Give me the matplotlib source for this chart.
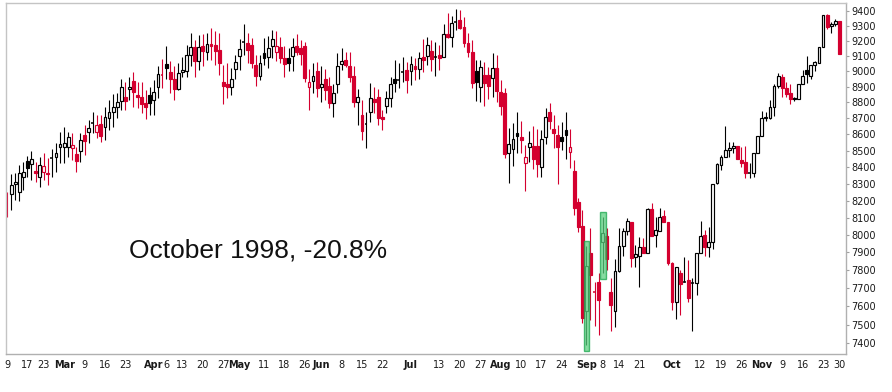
import numpy as np
import pandas as pd
import matplotlib
matplotlib.use("Agg")
import matplotlib.pyplot as plt
from matplotlib.patches import Rectangle
from matplotlib.ticker import NullLocator, NullFormatter

# ---------------- data ----------------
start_date = "1998-02-09"
end_date = "1998-11-30"
holidays = ["1998-02-16", "1998-04-10", "1998-05-25", "1998-07-03", "1998-09-07", "1998-11-26"]
prior_close = 8189

opens = [8186, 8237, 8296, 8251, 8340, 8437, 8417, 8377, 8342, 8372,
         8366, 8453, 8463, 8524, 8524, 8524, 8518, 8478, 8499, 8596,
         8617, 8673, 8617, 8664, 8644, 8700, 8741, 8769, 8809, 8832,
         8884, 8937, 8845, 8832, 8794, 8847, 8815, 8896, 8978, 9046,
         8993, 8949, 8884, 8993, 9003, 9105, 9156, 9068, 9165, 9127,
         9176, 9171, 9138, 8929, 8917, 8896, 9012, 9101, 9193, 9182,
         9171, 9040, 8969, 9116, 9090, 9167, 9127, 9156, 9084, 9088,
         9099, 9167, 9153, 9165, 8896, 8939, 9001, 8900, 8951, 8904,
         8794, 8915, 9045, 9073, 9031, 8969, 8804, 8720, 8663, 8737,
         8822, 8836, 8710, 8779, 8826, 8949, 8940, 8997, 9008, 9003,
         9036, 9012, 9094, 9101, 9134, 9094, 9105, 9094, 9244, 9226,
         9326, 9337, 9293, 9186, 9127, 9001, 8900, 8975, 8975, 8954,
         9019, 8868, 8858, 8487, 8508, 8607, 8582, 8426, 8524, 8530,
         8528, 8399, 8586, 8737, 8633, 8596, 8586, 8627, 8490, 8377,
         8194, 8052, 7575, 7895, 7677, 7735, 7961, 7994, 7677, 7575,
         7795, 7938, 8023, 8077, 7872, 7881, 7929, 7895, 8151, 7999,
         8023, 8110, 8077, 7838, 7625, 7786, 7732, 7745, 7730, 7730,
         7895, 7997, 7933, 7961, 8302, 8413, 8463, 8504, 8514, 8528,
         8443, 8433, 8366, 8366, 8488, 8590, 8700, 8700, 8773, 8904,
         8965, 8890, 8858, 8828, 8822, 8915, 9008, 8969, 9037, 9055,
         9156, 9371, 9297, 9310, 9330]

highs = [8251, 8358, 8364, 8413, 8431, 8469, 8498, 8433, 8463, 8484,
         8457, 8510, 8544, 8613, 8648, 8617, 8607, 8524, 8607, 8658,
         8689, 8741, 8720, 8720, 8773, 8815, 8852, 8858, 8951, 8929,
         8961, 8997, 8929, 8929, 8879, 8900, 8940, 9031, 9077, 9162,
         9068, 9031, 9052, 9094, 9173, 9249, 9204, 9237, 9242, 9249,
         9282, 9264, 9249, 9040, 9052, 9019, 9105, 9209, 9309, 9249,
         9220, 9105, 9105, 9220, 9231, 9271, 9264, 9226, 9162, 9151,
         9220, 9242, 9204, 9193, 9012, 9052, 9058, 9031, 9012, 8965,
         8919, 9116, 9151, 9127, 9127, 9031, 8883, 8815, 8741, 8922,
         8896, 8883, 8752, 8874, 8965, 9074, 9052, 9090, 9056, 9099,
         9084, 9127, 9209, 9226, 9204, 9193, 9173, 9311, 9383, 9364,
         9409, 9405, 9360, 9249, 9204, 9074, 9070, 9061, 9029, 9116,
         9105, 8940, 8889, 8638, 8673, 8737, 8683, 8534, 8621, 8652,
         8632, 8627, 8762, 8794, 8720, 8658, 8679, 8737, 8632, 8443,
         8215, 8144, 7935, 8037, 7735, 7786, 8102, 8037, 7755, 7865,
         8037, 8037, 8097, 8077, 7942, 7990, 7981, 8155, 8184, 8106,
         8155, 8145, 8077, 7847, 7819, 7800, 7876, 7856, 7755, 7895,
         8081, 8028, 8043, 8298, 8423, 8473, 8652, 8555, 8555, 8528,
         8524, 8528, 8423, 8488, 8590, 8746, 8740, 8815, 8917, 8988,
         8982, 8929, 8919, 8835, 8915, 9008, 9100, 9040, 9065, 9156,
         9371, 9378, 9324, 9344, 9330]

lows = [8104, 8145, 8204, 8199, 8263, 8342, 8322, 8312, 8282, 8322,
        8292, 8342, 8372, 8423, 8423, 8463, 8443, 8372, 8429, 8473,
        8544, 8607, 8576, 8555, 8566, 8627, 8648, 8700, 8752, 8752,
        8815, 8773, 8763, 8732, 8696, 8720, 8720, 8826, 8890, 8951,
        8858, 8815, 8879, 8961, 8965, 9031, 8965, 9008, 9031, 9074,
        9074, 9040, 8975, 8788, 8826, 8847, 8951, 9008, 9105, 9052,
        9019, 8906, 8944, 9040, 9019, 9084, 9065, 9051, 8961, 9001,
        9001, 9105, 9040, 8929, 8752, 8858, 8836, 8804, 8815, 8763,
        8710, 8858, 9008, 9029, 8929, 8773, 8658, 8566, 8518, 8679,
        8732, 8658, 8627, 8732, 8773, 8868, 8889, 8929, 8862, 8911,
        8940, 8951, 8997, 9040, 9003, 8969, 9008, 9094, 9215, 9160,
        9271, 9276, 9160, 9094, 8890, 8808, 8803, 8777, 8822, 8836,
        8804, 8720, 8453, 8306, 8407, 8484, 8484, 8257, 8433, 8389,
        8339, 8342, 8540, 8632, 8514, 8298, 8504, 8447, 8393, 8116,
        8017, 7511, 7390, 7525, 7495, 7442, 7782, 7801, 7464, 7489,
        7791, 7880, 7999, 7819, 7819, 7708, 7895, 7895, 7994, 7932,
        8023, 8077, 7828, 7580, 7529, 7550, 7732, 7625, 7464, 7660,
        7895, 7878, 7875, 7919, 8298, 8382, 8463, 8463, 8484, 8447,
        8402, 8333, 8333, 8342, 8488, 8590, 8683, 8696, 8714, 8892,
        8836, 8836, 8788, 8808, 8822, 8915, 8922, 8951, 8999, 9055,
        9156, 9277, 9249, 9297, 9109]

closes = [8186, 8292, 8308, 8364, 8368, 8393, 8447, 8366, 8412, 8407,
          8360, 8453, 8484, 8538, 8545, 8582, 8534, 8437, 8566, 8561,
          8638, 8673, 8658, 8592, 8710, 8741, 8769, 8801, 8900, 8811,
          8896, 8864, 8836, 8788, 8773, 8794, 8864, 8980, 8978, 9022,
          8949, 8884, 8986, 9008, 9105, 9156, 9068, 9160, 9134, 9176,
          9165, 9134, 9055, 8906, 8896, 8947, 9062, 9143, 9193, 9138,
          9051, 8969, 9051, 9084, 9153, 9209, 9167, 9088, 9045, 9051,
          9160, 9127, 9110, 8958, 8927, 8969, 8894, 8915, 8879, 8798,
          8862, 9035, 9067, 9040, 8965, 8804, 8832, 8623, 8663, 8826,
          8804, 8704, 8696, 8826, 8915, 8926, 8940, 8997, 8940, 9045,
          9014, 9084, 9073, 9171, 9079, 9094, 9088, 9244, 9226, 9319,
          9326, 9286, 9182, 9123, 8925, 8929, 9025, 8925, 8904, 9019,
          8875, 8779, 8479, 8538, 8570, 8590, 8566, 8459, 8545, 8449,
          8419, 8570, 8706, 8685, 8607, 8524, 8561, 8596, 8520, 8158,
          8048, 7534, 7823, 7773, 7677, 7634, 8013, 7861, 7607, 7795,
          7938, 8024, 8083, 7870, 7891, 7929, 7895, 8149, 7994, 8028,
          8102, 8077, 7838, 7625, 7819, 7721, 7732, 7644, 7730, 7895,
          7995, 7933, 7961, 8298, 8417, 8463, 8504, 8514, 8528, 8447,
          8423, 8363, 8366, 8488, 8590, 8700, 8705, 8773, 8904, 8969,
          8890, 8853, 8820, 8823, 8915, 8969, 8982, 9040, 9058, 9156,
          9371, 9293, 9310, 9330, 9109]

highlight_dates = ["1998-09-01", "1998-09-08"]

tick_dates = ["1998-02-09", "1998-02-17", "1998-02-23", "1998-03-02", "1998-03-09",
              "1998-03-16", "1998-03-23", "1998-04-01", "1998-04-06", "1998-04-13",
              "1998-04-20", "1998-04-27", "1998-05-01", "1998-05-11", "1998-05-18",
              "1998-05-26", "1998-06-01", "1998-06-08", "1998-06-15", "1998-06-22",
              "1998-07-01", "1998-07-13", "1998-07-20", "1998-07-27", "1998-08-03",
              "1998-08-10", "1998-08-17", "1998-08-24", "1998-09-01", "1998-09-08",
              "1998-09-14", "1998-09-21", "1998-10-01", "1998-10-12", "1998-10-19",
              "1998-10-26", "1998-11-02", "1998-11-09", "1998-11-16", "1998-11-23",
              "1998-11-30"]
tick_labels = ["9", "17", "23", "Mar", "9", "16", "23", "Apr", "6", "13", "20", "27",
               "May", "11", "18", "26", "Jun", "8", "15", "22", "Jul", "13", "20", "27",
               "Aug", "10", "17", "24", "Sep", "8", "14", "21", "Oct", "12", "19", "26",
               "Nov", "9", "16", "23", "30"]
month_names = ["Mar", "Apr", "May", "Jun", "Jul", "Aug", "Sep", "Oct", "Nov"]

y_ticks = list(range(7400, 9401, 100))
annotation = "October 1998, -20.8%"

# ---------------- build ----------------
dates = pd.bdate_range(start_date, end_date)
dates = dates[~dates.isin(pd.to_datetime(holidays))]
n = len(opens)
assert len(dates) == n == len(highs) == len(lows) == len(closes)
date_index = {d.strftime("%Y-%m-%d"): i for i, d in enumerate(dates)}
x = np.arange(n)

RED = "#d4002f"
BLACK = "#000000"
body_w = 0.70

W, H = 892, 392
fig = plt.figure(figsize=(W / 100, H / 100), dpi=100)
fig.patch.set_facecolor("white")
ax = fig.add_axes([6 / W, 1 - 354 / H, (845.7 - 6) / W, (354 - 3) / H])
ax.set_yscale("log")

prev = [prior_close] + closes[:-1]
colors = [RED if c < p else BLACK for c, p in zip(closes, prev)]

# wicks
ax.vlines(x, lows, highs, colors=colors, linewidth=0.8, zorder=1)

# bodies
for i in range(n):
    o, c, col = opens[i], closes[i], colors[i]
    if c == o:
        ax.hlines(o, i - body_w / 2, i + body_w / 2, colors=col, linewidth=1.1, zorder=2)
        continue
    lo, hi = min(o, c), max(o, c)
    face = "white" if c > o else col
    ax.add_patch(Rectangle((i - body_w / 2, lo), body_w, hi - lo,
                           facecolor=face, edgecolor=col, linewidth=0.85, zorder=2))

# highlight boxes
pad = 0.004
for d in highlight_dates:
    i = date_index[d]
    lo, hi = lows[i] * (1 - pad), highs[i] * (1 + pad)
    ax.add_patch(Rectangle((i - 0.7, lo), 1.4, hi - lo, facecolor="#5ccf80",
                           edgecolor="#19a64c", linewidth=1.0, alpha=0.75, zorder=3))

ax.set_xlim(-0.25, 205.56)
ax.set_ylim(7343, 9452)

# y axis on the right
ax.yaxis.tick_right()
ax.yaxis.set_minor_locator(NullLocator())
ax.yaxis.set_minor_formatter(NullFormatter())
ax.set_yticks(y_ticks)
ax.set_yticklabels([str(v) for v in y_ticks])
ax.tick_params(axis="y", which="major", length=2, width=0.8, color="#a0a0a0",
               pad=2, labelsize=7, labelcolor="#1a1a1a")

# x axis
ax.set_xticks([date_index[d] for d in tick_dates])
ax.set_xticklabels(tick_labels)
ax.tick_params(axis="x", which="major", length=0, pad=4, labelsize=7, labelcolor="#1a1a1a")
for lab in ax.get_xticklabels():
    if lab.get_text() in month_names:
        lab.set_fontweight("bold")

for s in ["left", "top"]:
    ax.spines[s].set_color("#c4c4c4")
    ax.spines[s].set_linewidth(1.0)
for s in ["right", "bottom"]:
    ax.spines[s].set_color("#b0b0b0")
    ax.spines[s].set_linewidth(1.0)
    ax.spines[s].set_linestyle((0, (1, 1)))

fig.text(129 / W, 1 - 257.3 / H, annotation, fontsize=19, family="Liberation Sans",
         ha="left", va="baseline", color="#111111")

fig.savefig("out.png", dpi=100, facecolor="white")
